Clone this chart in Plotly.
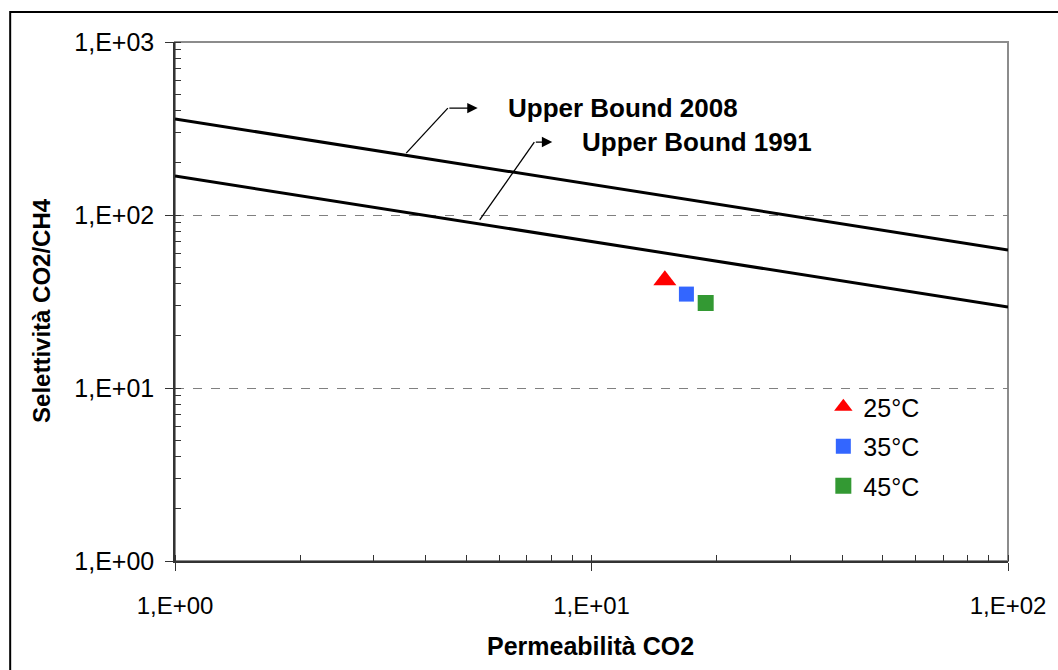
import plotly.graph_objects as go
import numpy as np

# Upper bound lines (read at endpoints)
ub_x = [1, 100]
ub2008_y = [359, 62.8]
ub1991_y = [168, 29.4]

# Experimental points
temps = ["25°C", "35°C", "45°C"]
perm = [15.0, 16.9, 18.8]
sel = [42.0, 34.9, 31.0]
colors = ["#FF0000", "#3366FF", "#339933"]
symbols = ["triangle-up", "square", "square"]
msizes = [20, 15, 16]

tick_vals = [1, 10, 100, 1000]
x_tick_text = ["1,E+00", "1,E+01", "1,E+02"]
y_tick_text = ["1,E+00", "1,E+01", "1,E+02", "1,E+03"]

# Arrow callouts (start on line, elbow, tip)
call_2008 = dict(x=[3.59, 4.52], y=[228, 415], tip=5.33, text="Upper Bound 2008")
call_1991 = dict(x=[5.39, 7.29], y=[93.6, 264], tip=8.05, text="Upper Bound 1991")

FONT = "Liberation Sans, Arial, sans-serif"

fig = go.Figure()
fig.add_trace(go.Scatter(x=ub_x, y=ub2008_y, mode="lines",
                         line=dict(color="black", width=3), showlegend=False))
fig.add_trace(go.Scatter(x=ub_x, y=ub1991_y, mode="lines",
                         line=dict(color="black", width=3), showlegend=False))

for c in (call_2008, call_1991):
    fig.add_trace(go.Scatter(x=c["x"], y=c["y"], mode="lines",
                             line=dict(color="black", width=1.3), showlegend=False))

for i, t in enumerate(temps):
    fig.add_trace(go.Scatter(x=[perm[i]], y=[sel[i]], mode="markers", name=t,
                             legendgroup=t,
                             marker=dict(color=colors[i], symbol=symbols[i], size=msizes[i],
                                         line=dict(width=0))))

annotations = []
for c in (call_2008, call_1991):
    annotations.append(dict(x=np.log10(c["tip"]), y=np.log10(c["y"][1]),
                            ax=np.log10(c["x"][1]), ay=np.log10(c["y"][1]),
                            axref="x", ayref="y", xref="x", yref="y",
                            showarrow=True, arrowhead=2, arrowsize=1.6, arrowwidth=1.3,
                            arrowcolor="black", text=""))
    annotations.append(dict(x=np.log10(c["tip"]), y=np.log10(c["y"][1]),
                            xref="x", yref="y", xanchor="left", yanchor="middle",
                            xshift=28, showarrow=False, text="<b>%s</b>" % c["text"],
                            font=dict(family=FONT, size=26, color="black")))

L, R, T, B = 175, 44, 42, 109
PW, PH = 1058 - L - R, 670 - T - B

def px(x):
    return (x - L) / PW

def py(y):
    return (670 - B - y) / PH

# axis titles as annotations for exact placement
annotations.append(dict(x=px(593), y=py(646), xref="paper", yref="paper", showarrow=False,
                        xanchor="center", yanchor="middle",
                        text="<b>Permeabilità CO2</b>", font=dict(family=FONT, size=25)))
annotations.append(dict(x=px(40), y=py(310), xref="paper", yref="paper", showarrow=False,
                        xanchor="center", yanchor="middle", textangle=-90,
                        text="<b>Selettività CO2/CH4</b>", font=dict(family=FONT, size=24)))

fig.update_layout(
    width=1058, height=670,
    margin=dict(l=L, r=R, t=T, b=B),
    paper_bgcolor="white", plot_bgcolor="white",
    font=dict(family=FONT, size=25, color="black"),
    annotations=annotations,
    legend=dict(x=px(828), y=py(384), xanchor="left", yanchor="top",
                bgcolor="rgba(0,0,0,0)", font=dict(size=25, family=FONT),
                tracegroupgap=4, itemwidth=30),
    shapes=[
        dict(type="rect", xref="paper", yref="paper", x0=0, x1=1, y0=0, y1=1,
             line=dict(color="#8c8c8c", width=2), layer="below"),
        dict(type="rect", xref="paper", yref="paper", x0=px(9), x1=1.3, y0=-0.4,
             y1=py(12), line=dict(color="black", width=2), layer="below"),
    ],
)

fig.update_xaxes(type="log", range=[0, 2], tickvals=tick_vals[:3], ticktext=x_tick_text,
                 showgrid=False, showline=True, linecolor="#333333", linewidth=1.5,
                 ticks="outside", ticklen=8, tickcolor="#333333",
                 minor=dict(ticks="inside", ticklen=6, tickcolor="#333333", dtick="D1", showgrid=False),
                 tickfont=dict(size=24), zeroline=False, ticklabelstandoff=14)
fig.update_yaxes(type="log", range=[0, 3], tickvals=tick_vals, ticktext=y_tick_text,
                 showgrid=True, gridcolor="#808080", griddash="dash", gridwidth=1,
                 showline=True, linecolor="#333333", linewidth=1.5,
                 ticks="outside", ticklen=8, tickcolor="#333333",
                 minor=dict(ticks="inside", ticklen=6, tickcolor="#333333", dtick="D1", showgrid=False),
                 tickfont=dict(size=25), zeroline=False, ticklabelstandoff=6)

fig.write_html("out.html")
